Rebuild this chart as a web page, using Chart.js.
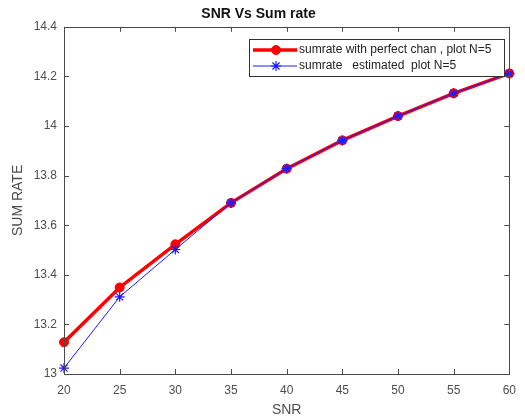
<!DOCTYPE html>
<html>
<head>
<meta charset="utf-8">
<script src="https://cdn.jsdelivr.net/npm/chart.js@4/dist/chart.umd.min.js"></script>
<style>
  body { margin: 0; background: #fff; }
  #wrap { width: 525px; height: 420px; }
</style>
</head>
<body>
<div id="wrap"><canvas id="snrChart" width="525" height="420"></canvas></div>
<script>
const snr = [20, 25, 30, 35, 40, 45, 50, 55, 60];
const perfectRate = [13.128, 13.349, 13.523, 13.690, 13.828, 13.942, 14.040, 14.132, 14.212];
const estimatedRate = [13.024, 13.311, 13.502, 13.690, 13.828, 13.942, 14.040, 14.132, 14.212];
const xTicks = [20, 25, 30, 35, 40, 45, 50, 55, 60];
const yTicks = [13, 13.2, 13.4, 13.6, 13.8, 14, 14.2, 14.4];

const axisColor = '#4a4a4a';
const labelColor = '#4d4d4d';
const fontFamily = 'Liberation Sans, Arial, sans-serif';

function toPoints(xs, ys) {
  return xs.map((x, i) => ({ x: x, y: ys[i] }));
}

// box around the plot plus inward ticks on all four sides (matlab look)
const boxPlugin = {
  id: 'box',
  afterDraw(chart) {
    const ctx = chart.ctx;
    const a = chart.chartArea;
    const xs = chart.scales.x, ys = chart.scales.y;
    ctx.save();
    ctx.strokeStyle = axisColor;
    ctx.lineWidth = 1;
    ctx.strokeRect(Math.round(a.left) + 0.5, Math.round(a.top) + 0.5,
      Math.round(a.right - a.left), Math.round(a.bottom - a.top));
    ctx.beginPath();
    xTicks.forEach(v => {
      const px = Math.round(xs.getPixelForValue(v)) + 0.5;
      ctx.moveTo(px, a.bottom); ctx.lineTo(px, a.bottom - 5);
      ctx.moveTo(px, a.top); ctx.lineTo(px, a.top + 5);
    });
    yTicks.forEach(v => {
      const py = Math.round(ys.getPixelForValue(v)) + 0.5;
      ctx.moveTo(a.left, py); ctx.lineTo(a.left + 5, py);
      ctx.moveTo(a.right, py); ctx.lineTo(a.right - 5, py);
    });
    ctx.stroke();
    ctx.restore();
  }
};

// legend box inside the plot, top right
const legendPlugin = {
  id: 'boxLegend',
  afterDraw(chart) {
    const ctx = chart.ctx;
    const ds = chart.data.datasets;
    const bx = 249, by = 39, bw = 255, bh = 37;
    ctx.save();
    ctx.fillStyle = '#fff';
    ctx.fillRect(bx, by, bw, bh);
    ctx.strokeStyle = '#333';
    ctx.lineWidth = 1;
    ctx.strokeRect(bx + 0.5, by + 0.5, bw, bh);
    ctx.font = '12px ' + fontFamily;
    ctx.textBaseline = 'middle';
    ds.forEach((d, i) => {
      const y = by + 11 + i * 16;
      ctx.strokeStyle = d.borderColor;
      ctx.lineWidth = d.borderWidth;
      ctx.beginPath();
      ctx.moveTo(bx + 4, y); ctx.lineTo(bx + 48, y);
      ctx.stroke();
      ctx.fillStyle = d.pointBackgroundColor;
      ctx.strokeStyle = d.pointBorderColor;
      ctx.lineWidth = d.pointBorderWidth;
      Chart.helpers.drawPoint(ctx, {
        pointStyle: d.pointStyle, radius: d.pointRadius,
        borderWidth: d.pointBorderWidth, rotation: 0
      }, bx + 27, y);
      ctx.fillStyle = '#222';
      ctx.fillText(d.label, bx + 50, y);
    });
    ctx.restore();
  }
};

const ctx = document.getElementById('snrChart').getContext('2d');
window.snrChart = new Chart(ctx, {
  type: 'line',
  data: {
    datasets: [{
      label: 'sumrate with perfect chan , plot N=5',
      data: toPoints(snr, perfectRate),
      borderColor: '#ff0000',
      backgroundColor: '#ff0000',
      borderWidth: 3.5,
      pointStyle: 'circle',
      pointRadius: 4.5,
      pointBackgroundColor: '#ff0000',
      pointBorderColor: '#ff0000',
      pointBorderWidth: 1,
      tension: 0,
      clip: false,
      order: 2
    }, {
      label: 'sumrate   estimated  plot N=5',
      data: toPoints(snr, estimatedRate),
      borderColor: '#1a1aff',
      backgroundColor: '#1a1aff',
      borderWidth: 1,
      pointStyle: 'star',
      pointRadius: 5,
      pointBackgroundColor: '#1a1aff',
      pointBorderColor: '#1a1aff',
      pointBorderWidth: 1.2,
      tension: 0,
      clip: false,
      order: 1
    }]
  },
  options: {
    responsive: false,
    animation: false,
    layout: { padding: { left: 0, right: 8, top: 0, bottom: 0 } },
    plugins: {
      legend: { display: false },
      tooltip: { enabled: false },
      title: {
        display: true,
        text: 'SNR Vs Sum rate',
        color: '#111',
        font: { family: fontFamily, size: 14, weight: 'bold' },
        padding: { top: 6, bottom: 4 }
      }
    },
    scales: {
      x: {
        type: 'linear',
        min: 20,
        max: 60,
        afterBuildTicks: s => { s.ticks = xTicks.map(v => ({ value: v })); },
        afterFit: s => { s.height = 46; },
        grid: { display: false, drawTicks: false },
        border: { display: false },
        ticks: { color: labelColor, padding: 9, maxRotation: 0, font: { family: fontFamily, size: 12 } },
        title: {
          display: true, text: 'SNR', color: labelColor,
          font: { family: fontFamily, size: 14 },
          padding: { top: 0, bottom: 1.5 }
        }
      },
      y: {
        min: 13,
        max: 14.4,
        afterBuildTicks: s => { s.ticks = yTicks.map(v => ({ value: v })); },
        afterFit: s => { s.width = 64; },
        grid: { display: false, drawTicks: false },
        border: { display: false },
        ticks: {
          color: labelColor, padding: 7, font: { family: fontFamily, size: 12 },
          callback: v => String(Math.round(v * 10) / 10)
        },
        title: {
          display: true, text: 'SUM RATE', color: labelColor,
          font: { family: fontFamily, size: 14 },
          padding: { top: 9.6, bottom: 0 }
        }
      }
    }
  },
  plugins: [boxPlugin, legendPlugin]
});
</script>
</body>
</html>
